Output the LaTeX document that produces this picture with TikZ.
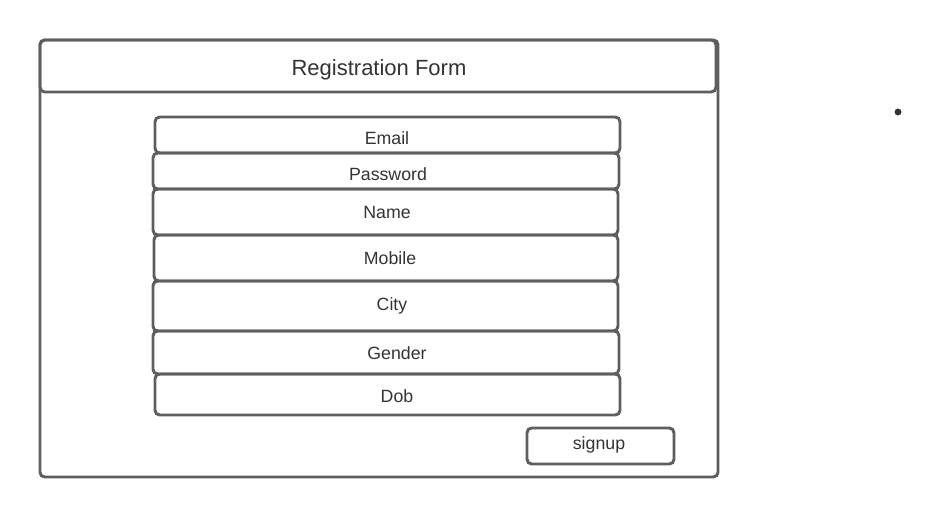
\documentclass[tikz,border=0pt]{standalone}
\usepackage{fontspec}
\setmainfont{Liberation Sans}
\usetikzlibrary{fit}
\definecolor{edge}{HTML}{5E5E5E}
\definecolor{txt}{HTML}{333333}
\tikzset{
  box/.style={draw=edge, line width=2.2pt, rounded corners=3.5pt, inner sep=0pt, text=txt, font=\fontsize{13.3}{15}\selectfont},
  titlebox/.style={box, font=\fontsize{16.5}{19}\selectfont},
}
\begin{document}
\begin{tikzpicture}[x=0.75pt,y=-0.75pt]
\useasboundingbox (0,0) rectangle (942,517);
\node[box, fit={(40,40)(718,477)}] (frame) {};
\node[titlebox, fit={(40,40)(716,92)}] (title) {};
\node[text=txt, font=\fontsize{16.5}{19}\selectfont] (titletext) at (379,70) {Registration Form};
\node[box, fit={(155,117)(620,153)}] (email) {};
\node[box, fit={(153,153)(619,189)}] (password) {};
\node[box, fit={(153,189)(618,235)}] (name) {};
\node[box, fit={(154,235)(618,281)}] (mobile) {};
\node[box, fit={(153,281)(618,331)}] (city) {};
\node[box, fit={(153,331)(619,374)}] (gender) {};
\node[box, fit={(155,374)(620,415)}] (dob) {};
\node[box, fit={(527,428)(674,464)}] (signup) {};
\tikzset{lbl/.style={text=txt, font=\fontsize{13.3}{15}\selectfont}}
\node[lbl] (emailt) at (387,138) {Email};
\node[lbl] (passwordt) at (388,174) {Password};
\node[lbl] (namet) at (387,212) {Name};
\node[lbl] (mobilet) at (390,258) {Mobile};
\node[lbl] (cityt) at (392,306) {City};
\node[lbl] (gendert) at (397,353) {Gender};
\node[lbl] (dobt) at (397,396) {Dob};
\node[lbl] (signupt) at (599,445) {signup};
\fill[txt] (898,112) circle (2.6pt) coordinate (dot);
\end{tikzpicture}
\end{document}
